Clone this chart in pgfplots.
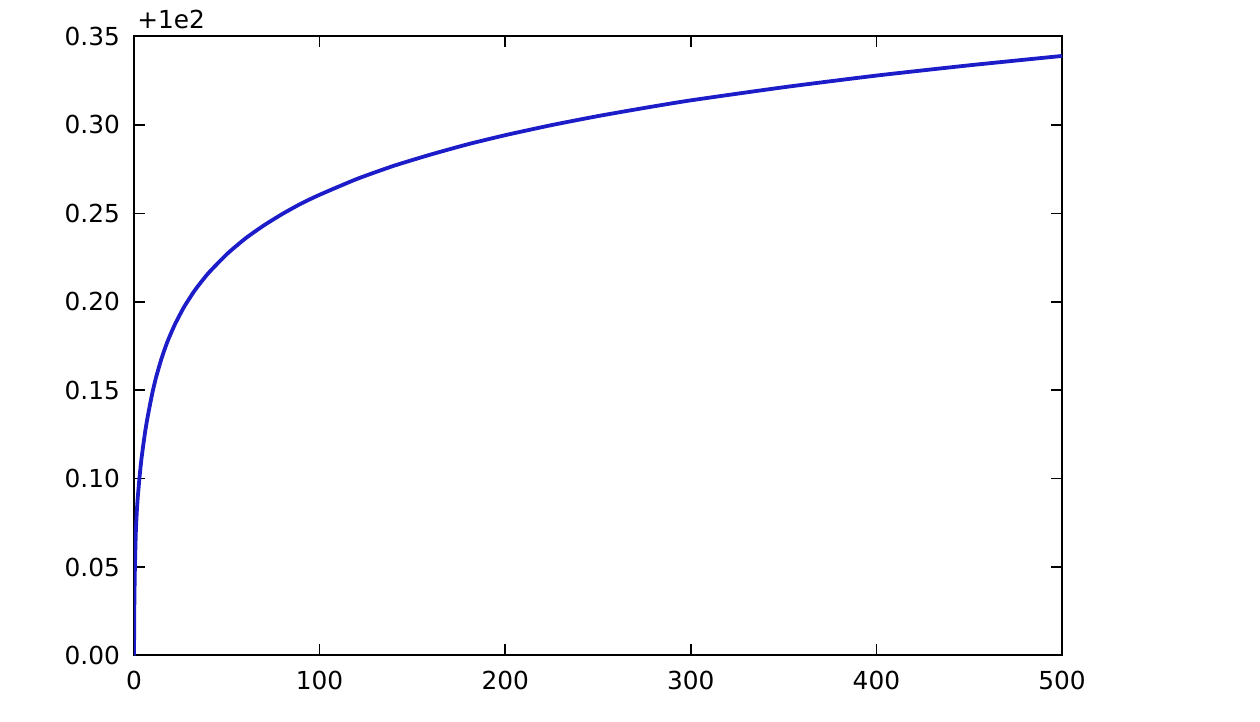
\documentclass[border=0pt]{standalone}
\usepackage{fontspec}
\setmainfont{DejaVu Sans}
\usepackage{pgfplots}
\pgfplotsset{compat=1.18}

\definecolor{curveblue}{RGB}{28,28,200}

\begin{document}
\begin{tikzpicture}[x=1pt,y=1pt]
  % 1 px of the reference = 0.5 pt
  \useasboundingbox (0,0) rectangle (630,361);
  \begin{axis}[
      at={(67pt,33.25pt)}, anchor=south west,
      scale only axis,
      width=464pt, height=309.5pt,
      xmin=0, xmax=500,
      ymin=0, ymax=0.35,
      xtick={0,100,...,500},
      ytick={0,0.05,...,0.35},
      tick align=inside,
      major tick length=5.5pt,
      axis line style={line width=1pt},
      tick style={line width=0.8pt, black},
      font=\fontsize{12.4}{15}\selectfont,
      /pgf/number format/assume math mode=true,
      yticklabel style={/pgf/number format/fixed, /pgf/number format/zerofill,
        /pgf/number format/precision=2, xshift=-3.5pt},
      xticklabel style={yshift=-4.5pt},
      scaled y ticks=false,
    ]
    % values (offset from 100)
    \addplot[curveblue, line width=1.9pt, smooth, tension=0.35] coordinates {
      (0,0)
      (0.2,0.030)
      (0.5,0.050)
      (1,0.070)
      (1.5,0.081)
      (2,0.089)
      (3,0.101)
      (4,0.111)
      (5,0.119)
      (6,0.1265)
      (7,0.1328)
      (8,0.1385)
      (10,0.1490)
      (12,0.1577)
      (15,0.1685)
      (18,0.1774)
      (22,0.1871)
      (27,0.1971)
      (33,0.2068)
      (40,0.2161)
      (50,0.2269)
      (60,0.2358)
      (70,0.2432)
      (80,0.2497)
      (90,0.2555)
      (100,0.2605)
      (120,0.2694)
      (140,0.2769)
      (160,0.2833)
      (180,0.2891)
      (200,0.2942)
      (225,0.2999)
      (250,0.3050)
      (275,0.3096)
      (300,0.3139)
      (350,0.3213)
      (400,0.3279)
      (450,0.3337)
      (500,0.3390)
    };
  \end{axis}
  \node[anchor=base west, inner sep=0pt, font=\fontsize{12.4}{15}\selectfont]
    at (68.5,346.5) {+1e2};
\end{tikzpicture}
\end{document}
